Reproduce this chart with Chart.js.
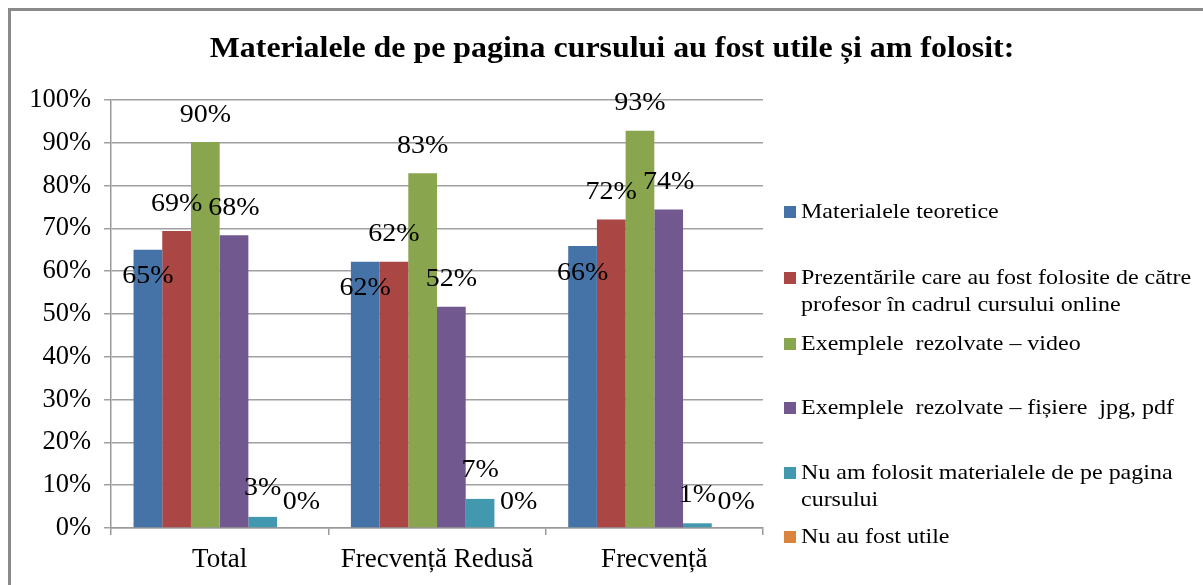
<!DOCTYPE html>
<html>
<head>
<meta charset="utf-8">
<script src="https://cdn.jsdelivr.net/npm/chart.js@4.4.0/dist/chart.umd.min.js"></script>
<style>
  html, body { margin: 0; padding: 0; background: #ffffff; }
  #wrap { position: relative; width: 1203px; height: 585px; }
</style>
</head>
<body>
<div id="wrap"><canvas id="c" width="1203" height="585"></canvas></div>
<script>
const titleText = "Materialele de pe pagina cursului au fost utile și am folosit:";
const categories = ["Total", "Frecvență Redusă", "Frecvență"];
const seriesNames = [
  ["Materialele teoretice"],
  ["Prezentările care au fost folosite de către", "profesor în cadrul cursului online"],
  ["Exemplele  rezolvate – video"],
  ["Exemplele  rezolvate – fișiere  jpg, pdf"],
  ["Nu am folosit materialele de pe pagina", "cursului"],
  ["Nu au fost utile"]
];
const materialeTeoretice = [65.0, 62.2, 65.9];
const prezentari = [69.4, 62.2, 72.1];
const exempleVideo = [90.2, 82.9, 92.8];
const exempleFisiere = [68.4, 51.7, 74.4];
const nuAmFolosit = [2.6, 6.8, 1.1];
const nuAuFostUtile = [0, 0, 0];
const yTicks = [0, 10, 20, 30, 40, 50, 60, 70, 80, 90, 100];

const colors = ["#4572A7", "#AA4643", "#89A54E", "#71588F", "#4198AF", "#DB843D"];
const seriesValues = [materialeTeoretice, prezentari, exempleVideo, exempleFisiere, nuAmFolosit, nuAuFostUtile];
const FONT = '"Liberation Serif", "Times New Roman", serif';

// label offsets relative to bar top (dx, dy)
const labelOffsets = [[0, 27], [0, -27], [0, -27], [0, -27], [0, -28], [10, -26]];
const legendY = [212, 278, 344, 408, 473, 537];

function drawScaled(ctx, text, x, y, sx) {
  ctx.save();
  ctx.translate(x, y);
  ctx.scale(sx, 1);
  ctx.fillText(text, 0, 0);
  ctx.restore();
}

const decorPlugin = {
  id: 'decor',
  beforeDraw(chart) {
    const ctx = chart.ctx;
    ctx.save();
    ctx.fillStyle = '#ffffff';
    ctx.fillRect(0, 0, chart.width, chart.height);
    ctx.strokeStyle = '#8a8a8a';
    ctx.lineWidth = 3;
    ctx.beginPath();
    ctx.moveTo(9.5, chart.height);
    ctx.lineTo(9.5, 9.5);
    ctx.lineTo(chart.width, 9.5);
    ctx.stroke();
    ctx.restore();
  },
  afterDraw(chart) {
    const ctx = chart.ctx;
    ctx.save();
    // title
    ctx.fillStyle = '#000000';
    ctx.font = 'bold 29px ' + FONT;
    ctx.textAlign = 'center';
    ctx.textBaseline = 'middle';
    drawScaled(ctx, titleText, 612, 50, 1.10);
    // data labels
    ctx.font = '25px ' + FONT;
    chart.data.datasets.forEach((ds, i) => {
      const meta = chart.getDatasetMeta(i);
      meta.data.forEach((el, j) => {
        const v = Math.round(ds.data[j]) + '%';
        drawScaled(ctx, v, el.x + labelOffsets[i][0], el.y + labelOffsets[i][1], 1.12);
      });
    });
    // legend
    ctx.font = '22px ' + FONT;
    ctx.textAlign = 'left';
    seriesNames.forEach((lines, i) => {
      const y = legendY[i];
      ctx.fillStyle = colors[i];
      ctx.fillRect(784, y - 6, 12, 12);
      ctx.fillStyle = '#000000';
      lines.forEach((ln, k) => {
        drawScaled(ctx, ln, 801, y + k * 27, 1.09);
      });
    });
    ctx.restore();
  }
};

new Chart(document.getElementById('c'), {
  type: 'bar',
  data: {
    labels: categories,
    datasets: seriesValues.map((vals, i) => ({
      label: seriesNames[i].join(' '),
      data: vals,
      backgroundColor: colors[i],
      borderWidth: 0,
      categoryPercentage: 0.7925,
      barPercentage: 1.0
    }))
  },
  options: {
    responsive: false,
    animation: false,
    layout: { padding: { left: 0, right: 440, top: 100, bottom: 0 } },
    plugins: {
      legend: { display: false },
      title: { display: false },
      tooltip: { enabled: false }
    },
    scales: {
      x: {
        afterFit(s) { s.height = 57; },
        grid: { display: true, drawOnChartArea: false, offset: true, tickLength: 7, color: '#999999', lineWidth: 1.5 },
        border: { color: '#999999', width: 1.5 },
        ticks: { color: '#000000', font: { family: FONT, size: 27 }, padding: 9, maxRotation: 0 }
      },
      y: {
        min: 0,
        max: 100,
        afterFit(s) { s.width = 111; },
        afterBuildTicks(s) { s.ticks = yTicks.map(v => ({ value: v })); },
        grid: { color: '#a0a0a0', lineWidth: 1.5, tickLength: 7 },
        border: { color: '#999999', width: 1.5 },
        ticks: { color: '#000000', font: { family: FONT, size: 26.5 }, padding: 13, callback: v => v + '%' }
      }
    }
  },
  plugins: [decorPlugin]
});
</script>
</body>
</html>
